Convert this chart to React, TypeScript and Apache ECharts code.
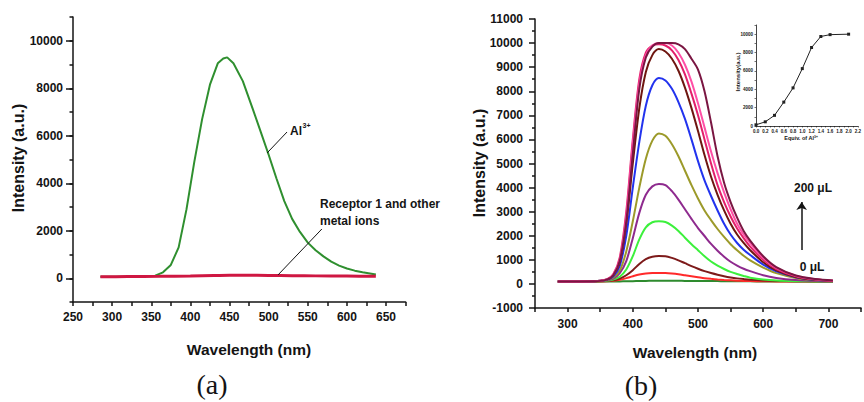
import React, { useEffect, useRef } from 'react';
import * as echarts from 'echarts';

const SANS = '"Liberation Sans", Arial, Helvetica, sans-serif';
const SERIF = '"Liberation Serif", "Times New Roman", serif';
const INK = '#141414';

// ---- Panel (a): emission of receptor 1 with Al3+ and with other metal ions
const AL_WAVELENGTH = [285, 300, 320, 340, 355, 365, 375, 385, 395, 405, 415, 425, 435, 442, 447, 455, 467, 480, 490, 500, 510, 520, 530, 540, 550, 560, 570, 580, 590, 600, 610, 620, 637];
const AL_INTENSITY = [60, 65, 70, 80, 110, 250, 560, 1300, 2900, 4900, 6700, 8150, 9050, 9250, 9300, 9050, 8300, 7100, 6150, 5200, 4200, 3250, 2500, 1950, 1500, 1180, 920, 700, 530, 410, 320, 250, 160];
const OTHER_WAVELENGTH = [285, 320, 360, 400, 430, 450, 470, 500, 530, 560, 600, 637];
const OTHER_INTENSITY = [60, 70, 80, 95, 120, 130, 130, 120, 110, 100, 90, 80];

// ---- Panel (b): titration spectra, 0 to 200 uL of Al3+
const TITRATION_WAVELENGTH = [285, 340, 360, 370, 380, 390, 400, 410, 420, 430, 440, 450, 460, 470, 480, 490, 500, 510, 520, 530, 540, 550, 560, 570, 580, 600, 620, 650, 680, 707];
const SPECTRUM_0 = [95, 100, 100, 100, 105, 110, 115, 120, 125, 128, 130, 130, 130, 128, 126, 124, 122, 120, 118, 116, 114, 112, 110, 108, 106, 104, 102, 100, 100, 100];
const SPECTRUM_20 = [100, 105, 110, 130, 170, 240, 320, 390, 430, 450, 455, 450, 430, 400, 360, 320, 280, 240, 210, 185, 165, 150, 135, 125, 118, 110, 105, 100, 100, 100];
const SPECTRUM_40 = [100, 105, 120, 150, 220, 360, 570, 830, 1030, 1130, 1160, 1150, 1080, 980, 860, 740, 630, 530, 450, 380, 320, 270, 230, 200, 175, 145, 125, 110, 105, 100];
const SPECTRUM_60 = [100, 108, 130, 180, 300, 600, 1150, 1850, 2350, 2560, 2600, 2570, 2420, 2200, 1920, 1650, 1400, 1150, 930, 760, 620, 500, 410, 330, 260, 180, 140, 115, 105, 100];
const SPECTRUM_80 = [100, 110, 150, 220, 450, 950, 1900, 2950, 3700, 4050, 4150, 4100, 3850, 3500, 3100, 2700, 2320, 1990, 1660, 1380, 1130, 920, 760, 630, 530, 360, 250, 160, 120, 110];
const SPECTRUM_100 = [100, 110, 160, 260, 550, 1350, 2600, 4000, 5200, 5950, 6250, 6150, 5800, 5300, 4700, 4100, 3550, 3050, 2650, 2280, 1950, 1650, 1400, 1170, 980, 680, 450, 250, 150, 120];
const SPECTRUM_120 = [100, 110, 170, 300, 750, 2000, 4000, 5900, 7400, 8250, 8550, 8450, 8100, 7550, 6850, 6000, 5100, 4300, 3650, 3050, 2500, 2050, 1700, 1420, 1200, 800, 520, 280, 160, 120];
const SPECTRUM_140 = [100, 110, 180, 350, 900, 2500, 5000, 7300, 8800, 9500, 9750, 9650, 9350, 8850, 8150, 7300, 6350, 5350, 4450, 3700, 3050, 2500, 2050, 1700, 1400, 900, 560, 290, 170, 120];
const SPECTRUM_160 = [100, 110, 190, 400, 1100, 3000, 6000, 8500, 9600, 9900, 9950, 9900, 9700, 9300, 8700, 7900, 7000, 6000, 5000, 4100, 3400, 2800, 2300, 1900, 1550, 1000, 620, 320, 180, 130];
const SPECTRUM_180 = [100, 110, 190, 380, 1000, 2800, 5800, 8300, 9500, 9900, 10000, 10000, 9900, 9600, 9100, 8400, 7500, 6500, 5500, 4600, 3800, 3100, 2500, 2050, 1700, 1080, 670, 340, 190, 130];
const SPECTRUM_200 = [100, 110, 180, 360, 950, 2600, 5400, 8100, 9400, 9850, 10000, 10000, 10000, 9950, 9750, 9350, 8900, 8000, 6700, 5300, 4200, 3400, 2750, 2200, 1800, 1150, 700, 350, 200, 140];
const TITRATION_SPECTRA = [SPECTRUM_0, SPECTRUM_20, SPECTRUM_40, SPECTRUM_60, SPECTRUM_80, SPECTRUM_100, SPECTRUM_120, SPECTRUM_140, SPECTRUM_160, SPECTRUM_180, SPECTRUM_200];
const SPECTRUM_COLORS = ['#2e8b2e', '#ff2a2a', '#7d1a1a', '#3cf03c', '#8e2a8e', '#9c9a2a', '#2233ee', '#6e1610', '#e2206a', '#ff4fa6', '#7a1642'];

// ---- Inset: peak intensity against equivalents of Al3+
const EQUIV = [0, 0.2, 0.4, 0.6, 0.8, 1.0, 1.2, 1.4, 1.6, 2.0];
const PEAK_INTENSITY = [130, 455, 1160, 2600, 4150, 6250, 8550, 9750, 9950, 10000];

// ---- Tick values
const LEFT_Y_LABELS = [0, 2000, 4000, 6000, 8000, 10000];

const zip = (xs: number[], ys: number[]) => xs.map((x, i) => [x, ys[i]]);
const plain = (v: number) => String(v);

const lineAxis = (width = 1.5) => ({ show: true, onZero: false, lineStyle: { color: INK, width } });
const tickStyle = (length: number, width = 1.5) => ({ show: true, length, lineStyle: { color: INK, width } });
const labelStyle = (fontSize = 12, margin = 10) => ({ color: INK, fontFamily: SANS, fontWeight: 'bold' as const, fontSize, margin });

const text = (x: number, y: number, str: string, font: string, extra: Record<string, unknown> = {}) => ({
  type: 'text',
  x,
  y,
  silent: true,
  ...extra,
  style: { text: str, fill: INK, font, align: 'center', verticalAlign: 'middle', ...((extra as any).style || {}) },
});

function buildOption() {
  const titrationSeries = TITRATION_SPECTRA.map((vals, i) => ({
    type: 'line',
    xAxisIndex: 1,
    yAxisIndex: 2,
    data: zip(TITRATION_WAVELENGTH, vals),
    showSymbol: false,
    smooth: 0.3,
    lineStyle: { color: SPECTRUM_COLORS[i], width: 2 },
    itemStyle: { color: SPECTRUM_COLORS[i] },
    z: 2 + i,
  }));

  return {
    animation: false,
    backgroundColor: '#ffffff',
    grid: [
      { left: 73, top: 17, width: 332.6, height: 285 },
      { left: 535, top: 19, width: 333.75, height: 289 },
      { left: 756, top: 25, width: 104.5, height: 101 },
    ],
    xAxis: [
      {
        type: 'value', gridIndex: 0, min: 250, max: 675, interval: 25,
        axisLine: lineAxis(), axisTick: tickStyle(4),
        axisLabel: { ...labelStyle(12, 9), formatter: (v: number) => (v % 50 === 0 ? String(v) : '') },
        splitLine: { show: false },
      },
      {
        type: 'value', gridIndex: 1, min: 250, max: 750, interval: 50,
        axisLine: lineAxis(), axisTick: tickStyle(4),
        axisLabel: { ...labelStyle(12, 10), formatter: (v: number) => (v % 100 === 0 && v >= 300 && v <= 700 ? String(v) : '') },
        splitLine: { show: false },
      },
      {
        type: 'value', gridIndex: 2, min: 0, max: 2.2, interval: 0.1,
        axisLine: lineAxis(0.8), axisTick: tickStyle(1.5, 0.6),
        axisLabel: {
          ...labelStyle(4.5, 2.5),
          formatter: (v: number) => {
            const r = Math.round(v * 10);
            return r % 2 === 0 ? (r / 10).toFixed(1) : '';
          },
        },
        splitLine: { show: false },
      },
    ],
    yAxis: [
      {
        type: 'value', gridIndex: 0, min: -1000, max: 11000, interval: 1000,
        axisLine: lineAxis(), axisTick: tickStyle(3.5),
        axisLabel: { show: false }, splitLine: { show: false },
      },
      {
        type: 'value', gridIndex: 0, position: 'left', offset: 0, min: -1000, max: 11000, interval: 1000,
        axisLine: { show: false },
        axisTick: { ...tickStyle(7), customValues: LEFT_Y_LABELS },
        axisLabel: { ...labelStyle(12, 10), customValues: LEFT_Y_LABELS, formatter: plain },
        splitLine: { show: false },
      },
      {
        type: 'value', gridIndex: 1, min: -1000, max: 11000, interval: 1000,
        axisLine: lineAxis(), axisTick: tickStyle(6),
        minorTick: { show: true, splitNumber: 2, length: 3, lineStyle: { color: INK, width: 1.5 } },
        axisLabel: { ...labelStyle(12, 12), formatter: plain }, splitLine: { show: false },
      },
      {
        type: 'value', gridIndex: 2, min: 0, max: 11000, interval: 1000,
        axisLine: lineAxis(0.8), axisTick: tickStyle(1.5, 0.6),
        axisLabel: { ...labelStyle(4.5, 3), formatter: (v: number) => (v % 2000 === 0 ? String(v) : '') },
        splitLine: { show: false },
      },
    ],
    series: [
      {
        type: 'line', xAxisIndex: 0, yAxisIndex: 0,
        data: zip(AL_WAVELENGTH, AL_INTENSITY),
        showSymbol: false,
        lineStyle: { color: '#2f8f2f', width: 2 },
        itemStyle: { color: '#2f8f2f' },
        markLine: {
          silent: true, symbol: ['none', 'none'], label: { show: false },
          lineStyle: { color: INK, width: 1, type: 'solid' },
          data: [[{ coord: [498, 5274] }, { coord: [523.5, 6158] }]],
        },
      },
      {
        type: 'line', xAxisIndex: 0, yAxisIndex: 0,
        data: zip(OTHER_WAVELENGTH, OTHER_INTENSITY),
        showSymbol: false,
        smooth: 0.3,
        lineStyle: { color: '#cf1742', width: 3 },
        itemStyle: { color: '#cf1742' },
        markLine: {
          silent: true, symbol: ['none', 'none'], label: { show: false },
          lineStyle: { color: INK, width: 1, type: 'solid' },
          data: [[{ coord: [512, 140] }, { coord: [568, 2074] }]],
        },
      },
      ...titrationSeries,
      {
        type: 'line', xAxisIndex: 1, yAxisIndex: 2,
        data: [[659, 1408], [659, 1408]],
        showSymbol: false,
        lineStyle: { opacity: 0 },
        markLine: {
          silent: true, symbol: ['none', 'arrow'], symbolSize: 8, label: { show: false },
          lineStyle: { color: INK, width: 1.5, type: 'solid' },
          data: [[{ coord: [659, 1408] }, { coord: [659, 3400] }]],
        },
      },
      {
        type: 'line', xAxisIndex: 2, yAxisIndex: 3,
        data: zip(EQUIV, PEAK_INTENSITY),
        symbol: 'rect', symbolSize: 3,
        lineStyle: { color: '#222', width: 1 },
        itemStyle: { color: '#222' },
      },
    ],
    graphic: [
      text(18, 158, 'Intensity (a.u.)', `bold 16px ${SANS}`, { rotation: Math.PI / 2 }),
      text(249, 349, 'Wavelength (nm)', `bold 15.5px ${SANS}`),
      text(212, 384, '(a)', `28px ${SERIF}`),
      text(479, 163, 'Intensity (a.u.)', `bold 16px ${SANS}`, { rotation: Math.PI / 2 }),
      text(695, 352, 'Wavelength (nm)', `bold 15.5px ${SANS}`),
      text(641, 385, '(b)', `28px ${SERIF}`),
      text(290, 131, 'Al', `bold 12px ${SANS}`, { style: { align: 'left' } }),
      text(302.5, 125, '3+', `bold 7px ${SANS}`, { style: { align: 'left' } }),
      text(320, 204, 'Receptor 1 and other', `bold 12px ${SANS}`, { style: { align: 'left' } }),
      text(320, 221, 'metal ions', `bold 12px ${SANS}`, { style: { align: 'left' } }),
      text(813, 188, '200 μL', `bold 12px ${SANS}`),
      text(812, 267, '0 μL', `bold 12px ${SANS}`),
      text(738, 72, 'Intensity(a.u.)', `bold 6px ${SANS}`, { rotation: Math.PI / 2 }),
      text(801, 138, 'Equiv. of Al³⁺', `bold 5.5px ${SANS}`),
    ],
  };
}

export default function App() {
  const ref = useRef<HTMLDivElement>(null);
  useEffect(() => {
    if (!ref.current) return;
    const chart = echarts.init(ref.current, null, { renderer: 'svg', width: 864, height: 402 });
    chart.setOption(buildOption() as any);
    return () => chart.dispose();
  }, []);
  return (
    <div
      ref={ref}
      style={{ position: 'fixed', left: 0, top: 0, width: 864, height: 402, background: '#ffffff' }}
    />
  );
}
